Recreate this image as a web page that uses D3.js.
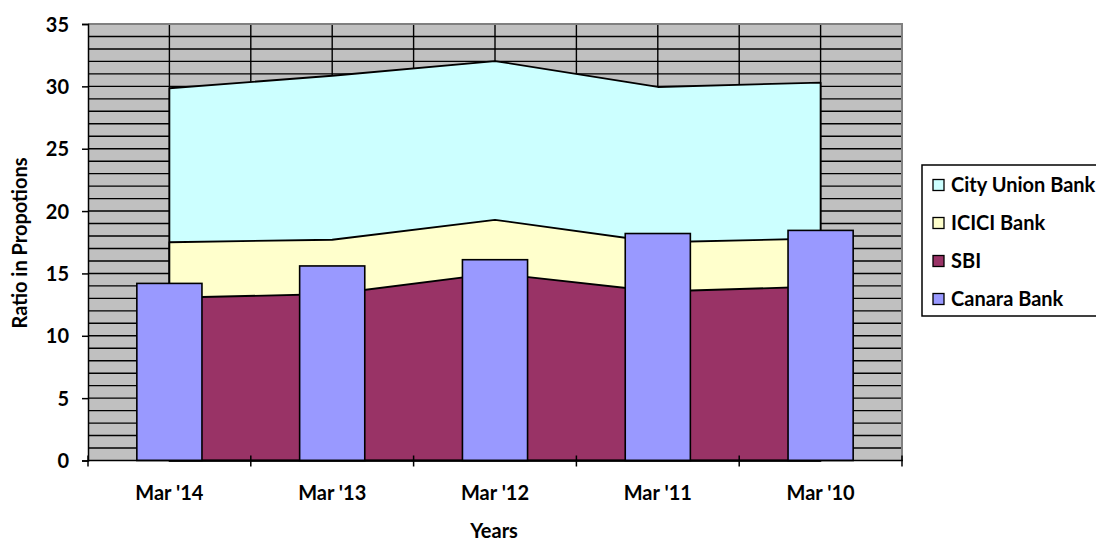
<!DOCTYPE html>
<html><head><meta charset="utf-8">
<script src="https://cdn.jsdelivr.net/npm/d3@7"></script>
<style>
body{margin:0;background:#fff;}
text{font-family:Lato,"Open Sans",sans-serif;font-weight:bold;fill:#000;}
</style></head>
<body>
<svg id="c" width="1096" height="541"></svg>
<script>
const categories = ["Mar '14","Mar '13","Mar '12","Mar '11","Mar '10"];
const cityUnion = [29.85, 30.85, 32.03, 29.95, 30.3];
const icici     = [17.5, 17.7, 19.3, 17.5, 17.8];
const sbi       = [13.05, 13.35, 15.0, 13.55, 13.95];
const canara    = [14.2, 15.6, 16.1, 18.2, 18.45];
const yTicks = [0,5,10,15,20,25,30,35];
const seriesNames = ["City Union Bank","ICICI Bank","SBI","Canara Bank"];
const colors = {"City Union Bank":"#CCFFFF","ICICI Bank":"#FFFFCC","SBI":"#993366","Canara Bank":"#9999FF"};

const svg = d3.select("#c");
const L=88, R=902, T=24, B=460.5;
const x = d3.scaleBand().domain(categories).range([L,R]).paddingInner(0).paddingOuter(0);
const y = d3.scaleLinear().domain([0,35]).range([B,T]);
const cx = c => x(c)+x.bandwidth()/2;
const FS = "20px";

// plot background
svg.append("rect").attr("x",L).attr("y",T).attr("width",R-L).attr("height",B-T).attr("fill","#C0C0C0");
// horizontal minor grid every 1
const g = svg.append("g");
g.selectAll("line.h").data(d3.range(1,36)).join("line")
  .attr("x1",L).attr("x2",R).attr("y1",d=>y(d)).attr("y2",d=>y(d))
  .attr("stroke","#000").attr("stroke-width",1.4);
// vertical grid at band centers and boundaries
const vx = [];
categories.forEach(c=>{vx.push(x(c)); vx.push(cx(c));});
g.selectAll("line.v").data(vx.slice(1)).join("line")
  .attr("x1",d=>d).attr("x2",d=>d).attr("y1",T).attr("y2",B)
  .attr("stroke","#000").attr("stroke-width",1.4);
// plot border top/right gray
svg.append("path").attr("d",`M${L},${T}H${R}V${B}`).attr("fill","none").attr("stroke","#808080").attr("stroke-width",2);

// areas
const area = vals => d3.area().x((d,i)=>cx(categories[i])).y0(y(0)).y1(d=>y(d))(vals);
[[cityUnion,"City Union Bank"],[icici,"ICICI Bank"],[sbi,"SBI"]].forEach(([v,n])=>{
  svg.append("path").attr("d",area(v)).attr("fill",colors[n]).attr("stroke","#000").attr("stroke-width",1.8).attr("stroke-linejoin","round");
});

// bars
const bw = x.bandwidth()/2.5;
svg.selectAll("rect.bar").data(canara).join("rect")
  .attr("x",(d,i)=>cx(categories[i])-bw/2).attr("width",bw)
  .attr("y",d=>y(d)).attr("height",d=>y(0)-y(d))
  .attr("fill",colors["Canara Bank"]).attr("stroke","#000").attr("stroke-width",1.6);

// axes
const yAxis = svg.append("g").attr("transform",`translate(${L},0)`)
  .call(d3.axisLeft(y).tickValues(yTicks).tickSize(6).tickPadding(13).tickFormat(d3.format("d")));
yAxis.select(".domain").attr("stroke","#000").attr("stroke-width",1.5);
yAxis.selectAll(".tick line").attr("stroke","#000").attr("stroke-width",1.5);
yAxis.selectAll(".tick text").style("font-size",FS).attr("dy","0.35em");

const xAxis = svg.append("g").attr("transform",`translate(0,${B})`);
xAxis.append("line").attr("x1",L).attr("x2",R+1).attr("stroke","#000").attr("stroke-width",1.5);
const bounds = categories.map(c=>x(c)).concat([R]);
xAxis.selectAll("line.t").data(bounds).join("line")
  .attr("x1",d=>d).attr("x2",d=>d).attr("y1",-5).attr("y2",6).attr("stroke","#000").attr("stroke-width",1.5);
xAxis.selectAll("text").data(categories).join("text")
  .attr("x",d=>cx(d)).attr("y",39.5).attr("text-anchor","middle").style("font-size",FS).text(d=>d);

// titles
svg.append("text").attr("x",494).attr("y",538).attr("text-anchor","middle").style("font-size",FS).text("Years");
svg.append("text").attr("transform","translate(27,243) rotate(-90)").attr("text-anchor","middle").style("font-size",FS).text("Ratio in Propotions");

// legend
const lg = svg.append("g");
lg.append("rect").attr("x",922).attr("y",165).attr("width",200).attr("height",151).attr("fill","#fff").attr("stroke","#000").attr("stroke-width",1.5);
seriesNames.forEach((n,i)=>{
  const yy = 185 + i*38;
  lg.append("rect").attr("x",933).attr("y",yy-5.5).attr("width",11).attr("height",11).attr("fill",colors[n]).attr("stroke","#000").attr("stroke-width",1.3);
  lg.append("text").attr("x",951).attr("y",yy).attr("dy","0.36em").style("font-size",FS).text(n);
});
</script>
</body></html>
